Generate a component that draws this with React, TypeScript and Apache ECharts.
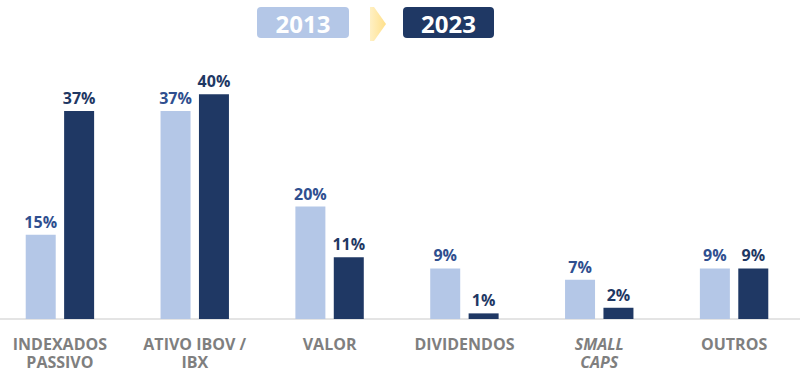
import React, { useEffect, useRef } from "react";
import * as echarts from "echarts";

const categories = ["INDEXADOS\nPASSIVO", "ATIVO IBOV /\nIBX", "VALOR", "DIVIDENDOS", "SMALL CAPS", "OUTROS"];
const values2013 = [15, 37, 20, 9, 7, 9];
const values2023 = [37, 40, 11, 1, 2, 9];
const legendYears = ["2013", "2023"];

const FONT = "'Open Sans', sans-serif";
const LIGHT = "#B4C7E7";
const DARK = "#1F3864";

export default function App() {
  const ref = useRef<HTMLDivElement>(null);
  useEffect(() => {
    if (!ref.current) return;
    const chart = echarts.init(ref.current, undefined, { renderer: "svg" });
    chart.setOption({
      animation: false,
      backgroundColor: "#FFFFFF",
      grid: { left: -7.5, width: 809, top: 38, bottom: 59, outerBoundsMode: "none" },
      xAxis: {
        type: "category",
        data: categories,
        axisTick: { show: false },
        axisLine: { show: true, lineStyle: { color: "#E4E4E4", width: 2 } },
        axisLabel: {
          interval: 0,
          margin: 16,
          color: "#7F7F7F",
          fontFamily: FONT,
          fontWeight: "bold",
          fontSize: 16,
          lineHeight: 18,
          formatter: (v: string) =>
            v === "SMALL CAPS" ? "{i|SMALL}\n{i|CAPS}" : v,
          rich: {
            i: {
              fontStyle: "italic",
              color: "#7F7F7F",
              fontFamily: FONT,
              fontWeight: "bold",
              fontSize: 16,
              lineHeight: 18,
            },
          },
        },
      },
      yAxis: {
        type: "value",
        min: 0,
        max: 50,
        show: false,
        splitLine: { show: false },
      },
      series: [
        {
          name: legendYears[0],
          type: "bar",
          data: values2013,
          barWidth: 30,
          barGap: "28%",
          itemStyle: { color: LIGHT },
          label: {
            show: true,
            position: "top",
            distance: 5,
            formatter: "{c}%",
            color: "#2F4F8F",
            fontFamily: FONT,
            fontWeight: "bold",
            fontSize: 16,
          },
        },
        {
          name: legendYears[1],
          type: "bar",
          data: values2023,
          barWidth: 30,
          itemStyle: { color: DARK },
          label: {
            show: true,
            position: "top",
            distance: 5,
            formatter: "{c}%",
            color: DARK,
            fontFamily: FONT,
            fontWeight: "bold",
            fontSize: 16,
          },
        },
      ],
      graphic: [
        {
          type: "rect",
          shape: { x: 257, y: 7, width: 92, height: 31, r: 4 },
          style: { fill: LIGHT },
        },
        {
          type: "text",
          x: 303,
          y: 23,
          style: {
            text: legendYears[0],
            fill: "#FFFFFF",
            font: "bold 24px 'Open Sans', sans-serif",
            align: "center",
            verticalAlign: "middle",
          },
        },
        {
          type: "polygon",
          shape: { points: [[370, 7], [374, 7], [386, 24], [374, 41], [370, 41]] },
          style: {
            fill: new echarts.graphic.LinearGradient(0, 0, 1, 0, [
              { offset: 0, color: "#FFF0C4" },
              { offset: 1, color: "#FFE08A" },
            ]),
          },
        },
        {
          type: "rect",
          shape: { x: 403, y: 7, width: 91, height: 31, r: 4 },
          style: { fill: DARK },
        },
        {
          type: "text",
          x: 448.5,
          y: 23,
          style: {
            text: legendYears[1],
            fill: "#FFFFFF",
            font: "bold 24px 'Open Sans', sans-serif",
            align: "center",
            verticalAlign: "middle",
          },
        },
      ],
    });
    return () => chart.dispose();
  }, []);
  return (
    <div
      ref={ref}
      style={{ position: "absolute", left: 0, top: 0, width: 800, height: 378 }}
    />
  );
}
